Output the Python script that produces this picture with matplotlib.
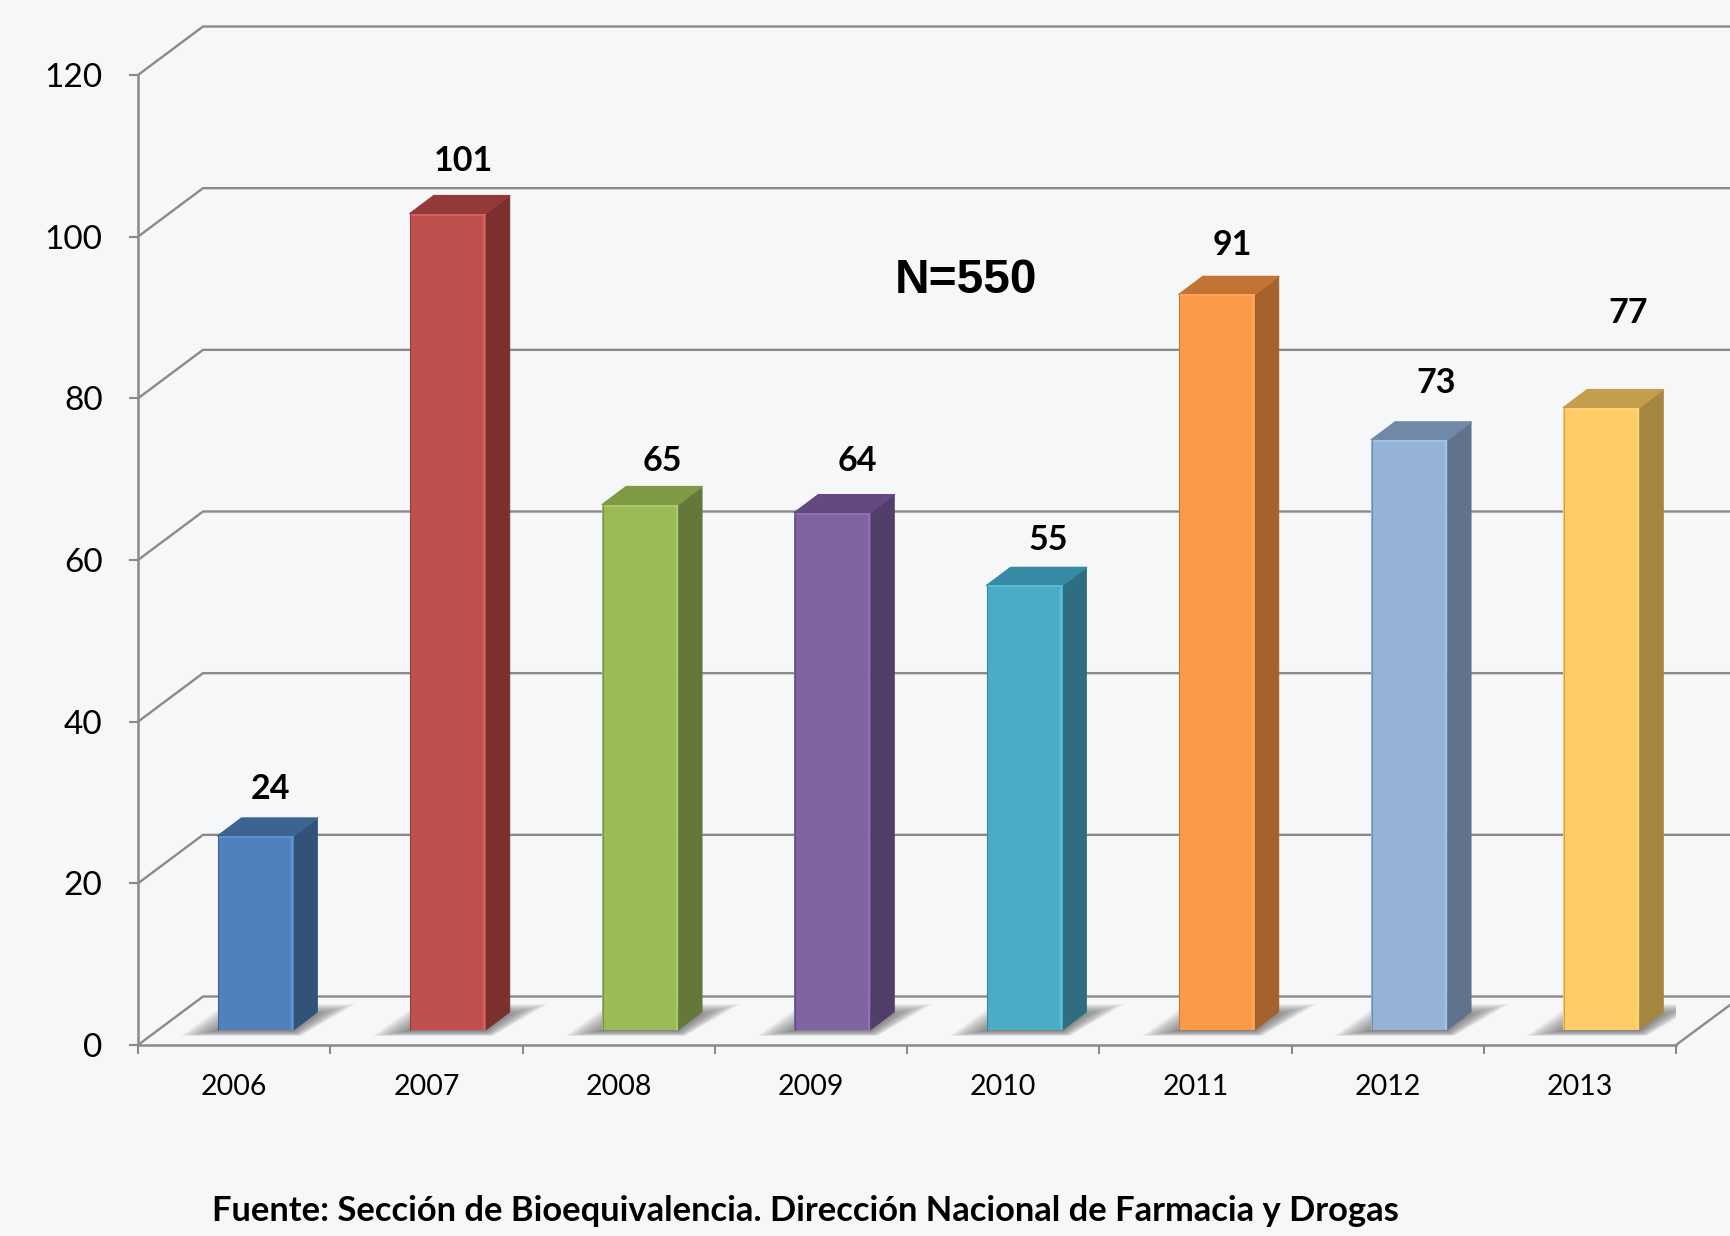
"""Bioequivalence studies per year, drawn as fake 3D bars like the office chart."""
import matplotlib
matplotlib.use("Agg")
import matplotlib.pyplot as plt
from matplotlib.patches import Polygon

years = ["2006", "2007", "2008", "2009", "2010", "2011", "2012", "2013"]
counts = [24, 101, 65, 64, 55, 91, 73, 77]
y_ticks = [0, 20, 40, 60, 80, 100, 120]

front_cols = ["#4f81bd", "#c0504d", "#9bbb59", "#8064a2", "#4bacc6", "#fa9a48", "#95b3d7", "#ffcc66"]
top_cols = ["#3d6390", "#94393a", "#7f9a45", "#63497f", "#378aa3", "#c27434", "#7089a8", "#c49d4d"]
side_cols = ["#32527a", "#7c302e", "#64783a", "#523f69", "#2f6e80", "#a4622c", "#5f738c", "#a68540"]
edge_cols = ["#5f92d2", "#d2605c", "#a9ca66", "#8f72b3", "#58bcd6", "#ffa659", "#a3c1e6", "#ffd474"]

# label nudges in px from the middle of the bar's top edge
label_dx = [15, 16, 22, 25, 24, 15, 27, 27]
label_dy = [47, 53, 44, 52, 45, 49, 57, 95]

BG = "#f6f7f9"
GRID = "#8a8a8a"
W, H = 1730, 1236
PX_X = 1538 / 8     # px per category
PX_Y = 970 / 120    # px per count


def px(dx, dy):
    return dx / PX_X, dy / PX_Y


fig = plt.figure(figsize=(W / 100, H / 100), dpi=100, facecolor=BG)
ax = fig.add_axes([138 / W, (H - 1045) / H, 1538 / W, 970 / H], facecolor="none")
ax.set_xlim(0, 8)
ax.set_ylim(0, 120)
for s in ["top", "right"]:
    ax.spines[s].set_visible(False)
for s in ["left", "bottom"]:
    ax.spines[s].set_color(GRID)
    ax.spines[s].set_linewidth(1.8)

# walls and floor
back_x, back_y = px(65, 48.5)
x_end = (W - 138) / PX_X
for v in y_ticks:
    ax.plot([0, back_x, x_end], [v, v + back_y, v + back_y], color=GRID, lw=1.7,
            clip_on=False, zorder=1, solid_joinstyle="miter")
ax.plot([8, x_end], [0, px(0, 40)[1]], color=GRID, lw=1.7, clip_on=False, zorder=1)

bar_w = 76 / PX_X
off_x = 21.5 / PX_X
base = 15 / PX_Y
dep_x, dep_y = px(24, 18)

for i, v in enumerate(counts):
    x0 = i + 0.5 + off_x - bar_w / 2
    x1 = x0 + bar_w

    # soft floor shadow, stacked see-through layers that shrink toward the bar
    n = 16
    for k in range(n):
        bl = px(-37 + k * 2.6, -6 + k * 0.35)
        br = px(7 - k * 0.5, -6 + k * 0.35)
        tr = px(62 - k * 3.0, 26 - k * 0.8)
        tl = px(8 + k * 1.5, 26 - k * 0.8)
        ax.add_patch(Polygon([(x0 + bl[0], base + bl[1]), (x1 + br[0], base + br[1]),
                              (x1 + tr[0], base + tr[1]), (x0 + tl[0], base + tl[1])],
                             closed=True, fc="#555555", ec="none", alpha=0.065, zorder=2))

    ax.bar(x0 + bar_w / 2, v, width=bar_w, bottom=base, color=front_cols[i], zorder=4,
           linewidth=0)
    top = base + v
    ax.add_patch(Polygon([(x1, base), (x1 + dep_x, base + dep_y), (x1 + dep_x, top + dep_y), (x1, top)],
                         closed=True, fc=side_cols[i], ec=side_cols[i], lw=0.5, zorder=3, joinstyle="round"))
    ax.add_patch(Polygon([(x0, top), (x0 + dep_x, top + dep_y), (x1 + dep_x, top + dep_y), (x1, top)],
                         closed=True, fc=top_cols[i], ec=top_cols[i], lw=1.0, zorder=3, joinstyle="round"))
    # bevel highlights
    ax.plot([x1 - 1.5 / PX_X] * 2, [base, top], color=edge_cols[i], lw=1.6, zorder=5, solid_capstyle="butt")
    ax.plot([x0, x1], [top - 1 / PX_Y] * 2, color=edge_cols[i], lw=1.4, zorder=5, solid_capstyle="butt")
    ax.plot([x0 + 0.5 / PX_X] * 2, [base, top], color=side_cols[i], lw=0.8, alpha=0.6, zorder=5)

    ax.annotate(str(v), (x0 + bar_w / 2, top), xytext=(label_dx[i] * 0.72, label_dy[i] * 0.72),
                textcoords="offset points", ha="center", va="center", fontsize=24.5,
                fontweight="bold", family="Lato", color="black", zorder=6, annotation_clip=False)

ax.set_yticks(y_ticks)
ax.set_yticklabels([str(v) for v in y_ticks], fontsize=24, family="Lato", color="black")
ax.tick_params(axis="y", length=6.5, width=1.5, color=GRID, pad=19)
ax.set_xticks(range(9))
ax.set_xticklabels([])
ax.set_xticks([i + 0.5 for i in range(8)], minor=True)
ax.set_xticklabels(years, minor=True, fontsize=20.5, family="Lato", color="black")
ax.tick_params(axis="x", which="major", length=6.5, width=1.5, color=GRID)
ax.tick_params(axis="x", which="minor", length=0, pad=21)

fig.text(965.5 / W, 1 - 281 / H, "N=550", fontsize=34.5, fontweight="bold",
         family="Liberation Sans", ha="center", va="center", color="black")
fig.text(805 / W, 1 - 1211 / H, "Fuente: Sección de Bioequivalencia. Dirección Nacional de Farmacia y Drogas",
         fontsize=24.8, fontweight="bold", family="Lato", ha="center", va="center", color="black")

fig.savefig("out.png", dpi=100, facecolor=BG)
